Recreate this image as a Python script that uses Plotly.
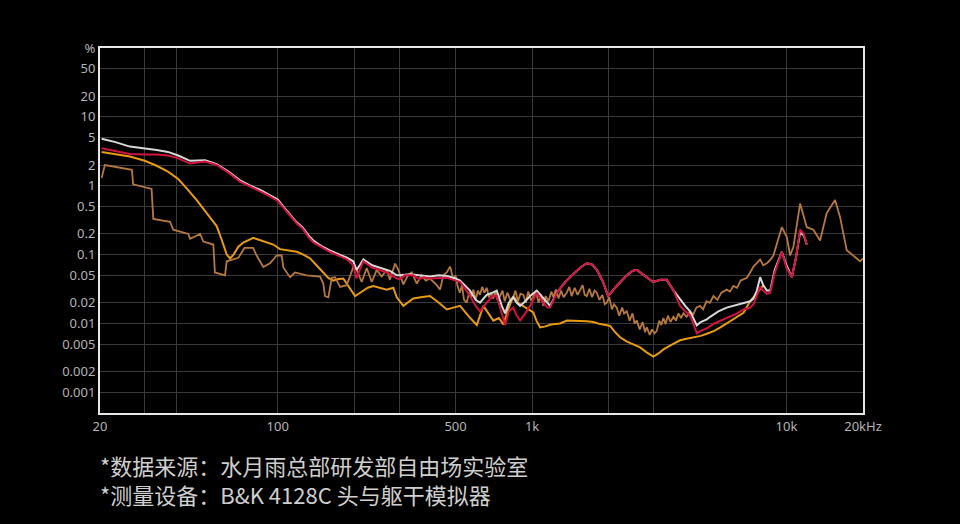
import plotly.graph_objects as go

# ---------------- data (Hz, %) ----------------
white_f = [20.3, 23, 26.2, 30, 33.4, 37, 40.6, 45.2, 51.8, 57.5, 64, 71, 78, 85, 92, 100, 106, 112, 118, 125, 132, 138,
           150, 160, 175, 187, 198, 204, 210, 217, 235, 251, 265, 276, 294, 302, 331, 360, 397, 430, 462, 500, 521, 570,
           600, 624, 663, 700, 726, 760, 783, 810, 843, 870, 897, 940, 982, 1043, 1104, 1150, 1178, 1250, 1350, 1449, 1550,
           1640, 1720, 1796, 1900, 1990, 2150, 2356, 2480, 2580, 2750, 2990, 3200, 3384, 3600,
           3819, 4000, 4178, 4300, 4442, 4600, 4863, 5012, 5400, 5823, 6183, 6776, 7199, 7418, 7650, 7883, 8100, 8374, 8628,
           9000, 9591, 10000, 10500, 10900, 11316, 11700, 12023]
white_v = [4.8, 4.3, 3.7, 3.5, 3.3, 3.1, 2.75, 2.3, 2.35, 2.05, 1.6, 1.2, 1.0, 0.88, 0.75, 0.63, 0.48, 0.37, 0.3, 0.25, 0.19, 0.16,
           0.13, 0.115, 0.1, 0.09, 0.08, 0.06, 0.07, 0.085, 0.07, 0.065, 0.06, 0.058, 0.05, 0.05, 0.052, 0.05, 0.048, 0.05, 0.049, 0.045, 0.042, 0.03,
           0.022, 0.02, 0.026, 0.028, 0.03, 0.018, 0.014, 0.02, 0.024, 0.02, 0.018, 0.021, 0.025, 0.03, 0.024, 0.02, 0.018, 0.028, 0.04, 0.052, 0.065,
           0.075, 0.072, 0.06, 0.04, 0.025, 0.035, 0.05, 0.058, 0.06, 0.05, 0.04, 0.043, 0.043, 0.03,
           0.022, 0.018, 0.015, 0.012, 0.0094, 0.0105, 0.0115, 0.0125, 0.015, 0.017, 0.018, 0.02, 0.021, 0.023, 0.03, 0.047, 0.036, 0.03, 0.03,
           0.06, 0.11, 0.07, 0.047, 0.09, 0.21, 0.19, 0.14]

red_f = [20.3, 23, 26.2, 30, 33.4, 37, 40.6, 45.2, 51.8, 57.5, 64, 71, 78, 85, 92, 100, 106, 112, 118, 125, 132, 138,
         150, 160, 175, 187, 198, 204, 210, 217, 235, 251, 265, 276, 294, 302, 316, 331, 341, 360, 375, 397, 430, 462, 490, 521, 545, 570,
         600, 624, 663, 700, 726, 760, 783, 810, 843, 870, 897, 940, 982, 1043, 1104, 1150, 1178, 1250, 1350, 1449, 1550, 1640, 1720,
         1796, 1900, 1990, 2150, 2356, 2480, 2580, 2750, 2990, 3200, 3384, 3600, 3816, 4000, 4178, 4300, 4442, 4600, 4863, 5200, 5823,
         6400, 6776, 7199, 7418, 7650, 7883, 8100, 8374, 8628, 9000, 9591, 10000, 10500, 10900, 11316, 11700, 12023]
red_v = [3.5, 3.2, 2.9, 2.85, 2.85, 2.75, 2.5, 2.1, 2.25, 2.0, 1.55, 1.15, 0.97, 0.85, 0.72, 0.6, 0.46, 0.36, 0.29, 0.24, 0.18, 0.15,
         0.125, 0.11, 0.095, 0.085, 0.07, 0.045, 0.06, 0.08, 0.065, 0.06, 0.056, 0.052, 0.045, 0.044, 0.05, 0.05, 0.05, 0.044, 0.047, 0.045, 0.046, 0.046, 0.043, 0.04, 0.032, 0.025,
         0.018, 0.015, 0.02, 0.025, 0.025, 0.014, 0.0095, 0.015, 0.017, 0.013, 0.011, 0.014, 0.018, 0.028, 0.02, 0.017, 0.017, 0.028, 0.04, 0.052, 0.065, 0.075, 0.072,
         0.06, 0.04, 0.025, 0.035, 0.05, 0.058, 0.06, 0.05, 0.04, 0.043, 0.043, 0.03, 0.018, 0.015, 0.013, 0.01, 0.0072, 0.0078, 0.0085, 0.01, 0.012,
         0.014, 0.016, 0.017, 0.019, 0.026, 0.034, 0.03, 0.027, 0.028, 0.055, 0.11, 0.065, 0.047, 0.09, 0.23, 0.2, 0.14]

orange_f = [20.3, 23, 26.2, 30, 33.4, 37, 40.6, 44, 48, 52, 57.5, 60, 63, 64.9, 67, 70, 73.2, 80.1, 88, 96, 102, 110, 118.7, 126, 134,
            142, 151, 158, 165.4, 172, 181, 190, 201.3, 208, 216.9, 226, 237.6, 252, 268, 284.7, 293.6, 311.7, 325, 341, 365, 397, 430,
            462, 490, 521, 560, 606, 643, 675, 704, 740, 771, 805, 844, 880, 924, 965, 1011, 1040, 1075, 1120, 1177, 1230, 1288, 1369,
            1450, 1544, 1640, 1742, 1850, 1950, 2026, 2120, 2218, 2350, 2500, 2658, 2820, 2999, 3150, 3283, 3500, 3819, 4050, 4306,
            4600, 4863, 5200, 5500, 5823, 6200, 6776, 7199, 7651, 8122]
orange_v = [3.1, 2.9, 2.65, 2.3, 1.95, 1.6, 1.25, 0.9, 0.62, 0.42, 0.26, 0.17, 0.1, 0.088, 0.1, 0.13, 0.15, 0.175, 0.155, 0.14, 0.12, 0.115, 0.11, 0.1, 0.088,
            0.07, 0.055, 0.046, 0.042, 0.044, 0.045, 0.035, 0.025, 0.027, 0.03, 0.033, 0.035, 0.033, 0.031, 0.033, 0.024, 0.018, 0.02, 0.023, 0.024, 0.025, 0.02,
            0.016, 0.017, 0.018, 0.013, 0.0095, 0.018, 0.014, 0.011, 0.012, 0.0097, 0.016, 0.025, 0.02, 0.018, 0.016, 0.0145, 0.011, 0.0088, 0.009, 0.0096, 0.0098, 0.01, 0.011,
            0.011, 0.011, 0.0108, 0.0105, 0.0098, 0.0095, 0.0092, 0.0075, 0.0063, 0.0055, 0.005, 0.0045, 0.0038, 0.0033, 0.0037, 0.0042, 0.0048, 0.0057, 0.006, 0.0063,
            0.0066, 0.0071, 0.0078, 0.0088, 0.01, 0.0115, 0.0143, 0.021, 0.028, 0.036]

brown_f = [20.3, 20.9, 26.7, 27.0, 31.9, 32.4, 37.7, 38.8, 44.5, 45.2, 49.5, 51.0, 55.8, 56.6, 62.0, 63.0, 70, 74, 80, 82.6, 87.7,
           93.2, 96.1, 99, 103.6, 105.2, 111.7, 116.9, 130, 146.6, 151, 153.4, 158.1, 163, 167.9, 175.8, 186.7, 198.2, 204.4, 213.8,
           223.8, 234.1, 244.9, 256.3, 268.1, 276, 289.2, 297.9, 311.7, 325, 336.3, 351.9, 368.1, 382, 396.9, 408.9, 422, 434.5, 448,
           461.7, 475.7, 480, 490, 500, 510, 520, 530, 540, 553, 565, 575, 588, 600, 612, 624, 636, 650, 663, 676, 690, 704, 716, 730,
           748, 765, 780, 800, 820, 844, 860, 880, 900, 924, 945, 965, 990, 1011, 1035, 1060, 1085, 1107, 1130, 1160, 1190, 1213,
           1240, 1270, 1300, 1330, 1369, 1400, 1430, 1470, 1510, 1544, 1580, 1610, 1641, 1680, 1720, 1760, 1796, 1840, 1890, 1930,
           1966, 2010, 2060, 2100, 2152, 2200, 2260, 2300, 2356, 2420, 2480, 2530, 2580, 2650, 2720, 2780, 2825, 2900, 2960, 3030,
           3091, 3160, 3220, 3283, 3350, 3420, 3500, 3594, 3680, 3760, 3850, 3935, 4050, 4178, 4300, 4420, 4576, 4700, 4850, 5000,
           5165, 5350, 5550, 5823, 6000, 6183, 6400, 6600, 6990, 7200, 7418, 7650, 7883, 8100, 8374, 8600, 8889, 9200, 9591, 10034,
           10339, 10655, 11000, 11316, 12023, 12765, 13558, 14402, 15528, 16255, 17261, 18334, 19475, 20000]
brown_v = [1.3, 2.0, 1.7, 1.05, 0.9, 0.33, 0.3, 0.23, 0.2, 0.17, 0.2, 0.155, 0.14, 0.055, 0.05, 0.08, 0.09, 0.125, 0.125, 0.097, 0.066,
           0.075, 0.085, 0.097, 0.097, 0.065, 0.047, 0.055, 0.05, 0.048, 0.038, 0.025, 0.024, 0.046, 0.047, 0.034, 0.036, 0.066, 0.06, 0.04,
           0.064, 0.04, 0.06, 0.048, 0.06, 0.043, 0.074, 0.06, 0.037, 0.05, 0.055, 0.038, 0.05, 0.042, 0.045, 0.041, 0.036, 0.031, 0.05,
           0.055, 0.067, 0.06, 0.043, 0.05, 0.034, 0.028, 0.036, 0.022, 0.02, 0.028, 0.024, 0.031, 0.022, 0.03, 0.026, 0.034, 0.028, 0.033, 0.024, 0.028, 0.023, 0.029, 0.022,
           0.025, 0.03, 0.021, 0.028, 0.022, 0.024, 0.03, 0.021, 0.027, 0.026, 0.02, 0.029, 0.022, 0.024, 0.03, 0.02, 0.026, 0.018, 0.025, 0.021, 0.029, 0.024,
           0.031, 0.023, 0.03, 0.024, 0.028, 0.034, 0.025, 0.033, 0.026, 0.031, 0.036, 0.026, 0.025, 0.032, 0.024, 0.03, 0.028, 0.022, 0.026, 0.019,
           0.02, 0.024, 0.016, 0.019, 0.017, 0.013, 0.017, 0.014, 0.015, 0.011, 0.014, 0.01, 0.011, 0.0082, 0.0105, 0.0075, 0.0088, 0.0068, 0.0082, 0.0072,
           0.0078, 0.011, 0.0095, 0.012, 0.0098, 0.013, 0.0105, 0.0125, 0.011, 0.014, 0.012, 0.014, 0.0125, 0.015, 0.0135, 0.017, 0.018, 0.016, 0.021, 0.02,
           0.025, 0.022, 0.028, 0.031, 0.029, 0.035, 0.033, 0.042, 0.046, 0.055, 0.067, 0.075, 0.085, 0.07, 0.075, 0.082, 0.097, 0.15, 0.25, 0.18,
           0.097, 0.13, 0.3, 0.55, 0.25, 0.23, 0.16, 0.4, 0.62, 0.35, 0.116, 0.097, 0.08, 0.088]

x_tick_vals = [20, 100, 500, 1000, 10000, 20000]
x_tick_text = ["20", "100", "500", "1k", "10k", "20kHz"]
x_grid_vals = [30, 40, 200, 300, 2000, 3000]
y_tick_vals = [100, 50, 20, 10, 5, 2, 1, 0.5, 0.2, 0.1, 0.05, 0.02, 0.01, 0.005, 0.002, 0.001]
y_tick_text = ["%", "50", "20", "10", "5", "2", "1", "0.5", "0.2", "0.1", "0.05", "0.02", "0.01", "0.005", "0.002", "0.001"]

note_lines = ["*数据来源：水月雨总部研发部自由场实验室", "*测量设备：B&K 4128C 头与躯干模拟器"]

# ---------------- figure ----------------
fig = go.Figure()
fig.add_trace(go.Scatter(x=orange_f, y=orange_v, mode="lines", line=dict(color="#e99b10", width=2), hoverinfo="skip"))
fig.add_trace(go.Scatter(x=brown_f, y=brown_v, mode="lines", line=dict(color="#b7783f", width=1.8), hoverinfo="skip"))
fig.add_trace(go.Scatter(x=white_f, y=white_v, mode="lines", line=dict(color="#d8d8d8", width=2), hoverinfo="skip"))
fig.add_trace(go.Scatter(x=red_f, y=red_v, mode="lines", line=dict(color="#d2123f", width=2), hoverinfo="skip"))

axis_font = dict(family="Noto Sans, sans-serif", size=13, color="#b4b4b4")
fig.update_xaxes(type="log", range=[1.30103, 4.30103], tickvals=x_tick_vals, ticktext=x_tick_text,
                 showgrid=True, gridcolor="#3a3a3a", gridwidth=1, zeroline=False,
                 showline=True, linecolor="#e6e6e6", linewidth=2, mirror=True, ticks="", tickfont=axis_font,
                 minor=dict(tickmode="array", tickvals=x_grid_vals, showgrid=True, gridcolor="#3a3a3a", gridwidth=1, ticks=""))
fig.update_yaxes(type="log", range=[-3.3, 2.0], tickvals=y_tick_vals, ticktext=y_tick_text,
                 showgrid=True, gridcolor="#3a3a3a", gridwidth=1, zeroline=False,
                 showline=True, linecolor="#e6e6e6", linewidth=2, mirror=True, ticks="", tickfont=axis_font)

for i, t in enumerate(note_lines):
    fig.add_annotation(text=t, xref="paper", yref="paper", x=-0.003, y=-0.142 - i * 0.08, xanchor="left", yanchor="middle",
                       showarrow=False, font=dict(family="Noto Sans CJK SC", size=22, color="#cfcfcf"))

fig.update_layout(width=960, height=524, margin=dict(l=100, r=97, t=48, b=111),
                  paper_bgcolor="#000000", plot_bgcolor="#000000", showlegend=False)

fig.write_html("out.html", config={"displayModeBar": False},
               post_script="document.body.style.margin='0';document.body.style.background='#000';")
